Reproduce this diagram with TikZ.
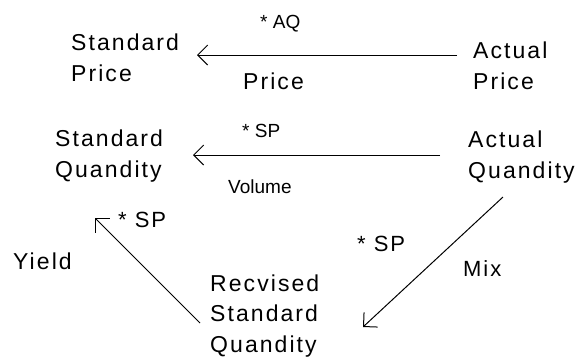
\documentclass[tikz,border=0pt]{standalone}
\usepackage{fontspec}
\setmainfont{Liberation Sans}[LetterSpace=9]
\newfontfamily\plainfont{Liberation Sans}
\usetikzlibrary{arrows.meta}
\begin{document}
\begin{tikzpicture}[x=1pt,y=-1pt,
  % multi-line labels are placed by the baseline of their last line
  lbl/.style={inner sep=0pt,anchor=base west,align=left,
    font=\fontsize{23}{30.5}\selectfont},
  mid/.style={lbl,font=\fontsize{22}{30}\selectfont},
  small/.style={lbl,font=\plainfont\fontsize{19}{22}\selectfont},
  flow/.style={line width=1pt,-{Straight Barb[length=10pt,width=20pt,line width=1pt]}}]
\useasboundingbox (0,0) rectangle (579,357);

% quantities
\node[lbl] (sp)  at (71,81)   {Standard\\Price};
\node[lbl] (ap)  at (473,89)  {Actual\\Price};
\node[lbl] (sq)  at (55,177)  {Standard\\Quandity};
\node[lbl] (aq)  at (468,178) {Actual\\Quandity};
\node[lbl] (rsq) at (210,352) {Recvised\\Standard\\Quandity};

% arrow ends
\coordinate (p1) at (457,55);  \coordinate (p2) at (197,55);
\coordinate (q1) at (440,155); \coordinate (q2) at (193,155);
\coordinate (m1) at (503,197); \coordinate (m2) at (363,327);
\coordinate (y1) at (200,323); \coordinate (y2) at (95,218);

\draw[flow] (p1) -- (p2);
\draw[flow] (q1) -- (q2);
\draw[flow] (m1) -- (m2);
\draw[flow] (y1) -- (y2);

% variance labels
\node[small] (aqf)  at (260,28)  {* AQ};
\node[lbl]   (pv)   at (243,89)  {Price};
\node[small] (spf1) at (242,137) {* SP};
\node[small] (vv)   at (228,193) {Volume};
\node[mid]   (spf2) at (118,227) {* SP};
\node[lbl]   (yv)   at (13,269)  {Yield};
\node[mid]   (spf3) at (357,251) {* SP};
\node[mid]   (mv)   at (463,276) {Mix};
\end{tikzpicture}
\end{document}
